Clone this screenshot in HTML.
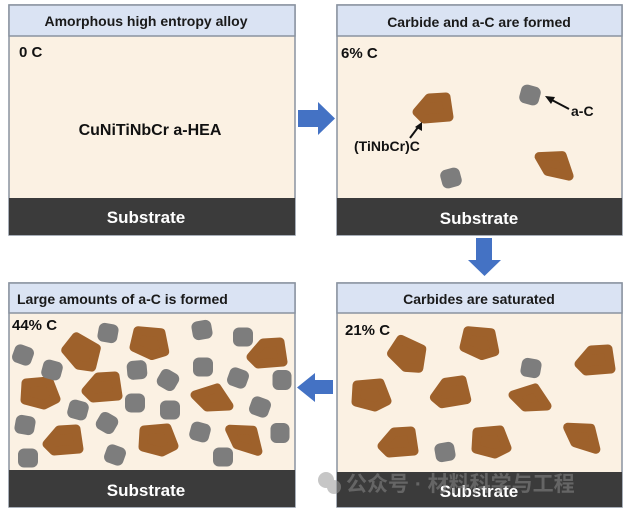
<!DOCTYPE html>
<html><head><meta charset="utf-8"><style>
html,body{margin:0;padding:0;background:#fff;}
svg{display:block;}
text{font-family:"Liberation Sans","Noto Sans CJK SC",sans-serif;font-weight:bold;}
</style></head><body>
<svg width="628" height="515" viewBox="0 0 628 515" xmlns="http://www.w3.org/2000/svg">
<defs>
<polygon id="b1" points="-14,-10 9,-12 16,6 4,12 -15,7" fill="#9e612b" stroke="#9e612b" stroke-width="9" stroke-linejoin="round"/>
<polygon id="b2" points="-16,4 -4,-10 13,-11 16,9 -9,11" fill="#9e612b" stroke="#9e612b" stroke-width="9" stroke-linejoin="round"/>
<polygon id="b3" points="-17,-2 5,-9 17,9 -5,10" fill="#9e612b" stroke="#9e612b" stroke-width="9" stroke-linejoin="round"/>
<rect id="g" x="-10" y="-9.5" width="20" height="19" rx="6" fill="#7d7d7d"/>
</defs>
<g stroke="#8a93a0" stroke-width="1.5">
<rect x="9" y="5" width="286" height="230" fill="#fbf1e3"/>
<rect x="337" y="5" width="285" height="230" fill="#fbf1e3"/>
<rect x="9" y="283" width="286" height="224" fill="#fbf1e3"/>
<rect x="337" y="283" width="285" height="224" fill="#fbf1e3"/>
<rect x="9" y="5" width="286" height="31" fill="#dae3f3"/>
<rect x="337" y="5" width="285" height="31" fill="#dae3f3"/>
<rect x="9" y="283" width="286" height="30" fill="#dae3f3"/>
<rect x="337" y="283" width="285" height="30" fill="#dae3f3"/>
</g>
<rect x="9" y="198" width="286" height="37" fill="#3b3b3b"/>
<rect x="337" y="198" width="285" height="37" fill="#3b3b3b"/>
<rect x="9" y="470" width="286" height="37" fill="#3b3b3b"/>
<rect x="337" y="472" width="285" height="35" fill="#3b3b3b"/>
<g font-size="14" fill="#1a1a1a" text-anchor="middle">
<text x="146" y="26">Amorphous high entropy alloy</text>
<text x="479" y="27">Carbide and a-C are formed</text>
<text x="479" y="304">Carbides are saturated</text>
</g>
<text x="17" y="304" font-size="14" fill="#1a1a1a">Large amounts of a-C is formed</text>
<g font-size="17" fill="#fff" text-anchor="middle">
<text x="146" y="223">Substrate</text>
<text x="479" y="224">Substrate</text>
<text x="146" y="496">Substrate</text>
<text x="479" y="497">Substrate</text>
</g>
<g font-size="15" fill="#111">
<text x="19" y="57">0 C</text>
<text x="341" y="58">6% C</text>
<text x="345" y="335">21% C</text>
<text x="12" y="330">44% C</text>
</g>
<text x="150" y="135" font-size="16" fill="#111" text-anchor="middle">CuNiTiNbCr a-HEA</text>
<polygon points="298,110 318,110 318,102 335,118.5 318,135 318,127 298,127" fill="#4472c4"/>
<polygon points="476,238 492,238 492,260 501,260 484.5,276 468,260 476,260" fill="#4472c4"/>
<polygon points="333,380 315,380 315,373 297,387.5 315,402 315,394 333,394" fill="#4472c4"/>
<use href="#b2" transform="translate(433,108)"/>
<use href="#b3" transform="translate(555,163) rotate(15)"/>
<use href="#g" transform="translate(530,95) rotate(15)"/>
<use href="#g" transform="translate(451,178) rotate(-15)"/>
<line x1="569" y1="109" x2="550" y2="99" stroke="#111" stroke-width="2"/>
<polygon points="545,96 555,97 551,104" fill="#111"/>
<text x="571" y="116" font-size="14" fill="#111" font-weight="normal">a-C</text>
<line x1="410" y1="138" x2="419" y2="126" stroke="#111" stroke-width="2"/>
<polygon points="422,122 422,131 415,127" fill="#111"/>
<text x="354" y="151" font-size="14" fill="#111" font-weight="normal">(TiNbCr)C</text>
<use href="#b1" transform="translate(408,355) rotate(30)"/>
<use href="#b1" transform="translate(480,343) rotate(10)"/>
<use href="#b2" transform="translate(595,360)"/>
<use href="#b1" transform="translate(371,395)"/>
<use href="#b2" transform="translate(450,392) rotate(-5)"/>
<use href="#b3" transform="translate(530,397)"/>
<use href="#b2" transform="translate(398,442)"/>
<use href="#b1" transform="translate(491,442)"/>
<use href="#b3" transform="translate(583,435) rotate(20)"/>
<use href="#g" transform="translate(531,368) rotate(10)"/>
<use href="#g" transform="translate(445,452) rotate(-10)"/>
<use href="#b1" transform="translate(82,353) rotate(35)"/>
<use href="#b1" transform="translate(150,343) rotate(10)"/>
<use href="#b2" transform="translate(267,353)"/>
<use href="#b1" transform="translate(40,393)"/>
<use href="#b2" transform="translate(102,387)"/>
<use href="#b3" transform="translate(212,397)"/>
<use href="#b2" transform="translate(63,440)"/>
<use href="#b1" transform="translate(158,440)"/>
<use href="#b3" transform="translate(245,437) rotate(20)"/>
<g>
<use href="#g" transform="translate(23,355) rotate(20)"/>
<use href="#g" transform="translate(108,333) rotate(10)"/>
<use href="#g" transform="translate(202,330) rotate(-10)"/>
<use href="#g" transform="translate(243,337)"/>
<use href="#g" transform="translate(52,370) rotate(15)"/>
<use href="#g" transform="translate(137,370) rotate(-5)"/>
<use href="#g" transform="translate(168,380) rotate(30)"/>
<use href="#g" transform="translate(203,367)"/>
<use href="#g" transform="translate(238,378) rotate(20)"/>
<use href="#g" transform="translate(282,380) rotate(90)"/>
<use href="#g" transform="translate(78,410) rotate(15)"/>
<use href="#g" transform="translate(135,403)"/>
<use href="#g" transform="translate(170,410)"/>
<use href="#g" transform="translate(260,407) rotate(20)"/>
<use href="#g" transform="translate(25,425) rotate(10)"/>
<use href="#g" transform="translate(107,423) rotate(30)"/>
<use href="#g" transform="translate(200,432) rotate(15)"/>
<use href="#g" transform="translate(280,433) rotate(90)"/>
<use href="#g" transform="translate(28,458)"/>
<use href="#g" transform="translate(115,455) rotate(20)"/>
<use href="#g" transform="translate(223,457)"/>
</g>
<g opacity="0.55">
<circle cx="326" cy="480" r="8" fill="#999"/>
<circle cx="334" cy="487" r="7" fill="#999"/>
<text x="346" y="491" font-size="21" fill="#888" font-weight="normal">公众号 · 材料科学与工程</text>
</g>
</svg>
</body></html>
